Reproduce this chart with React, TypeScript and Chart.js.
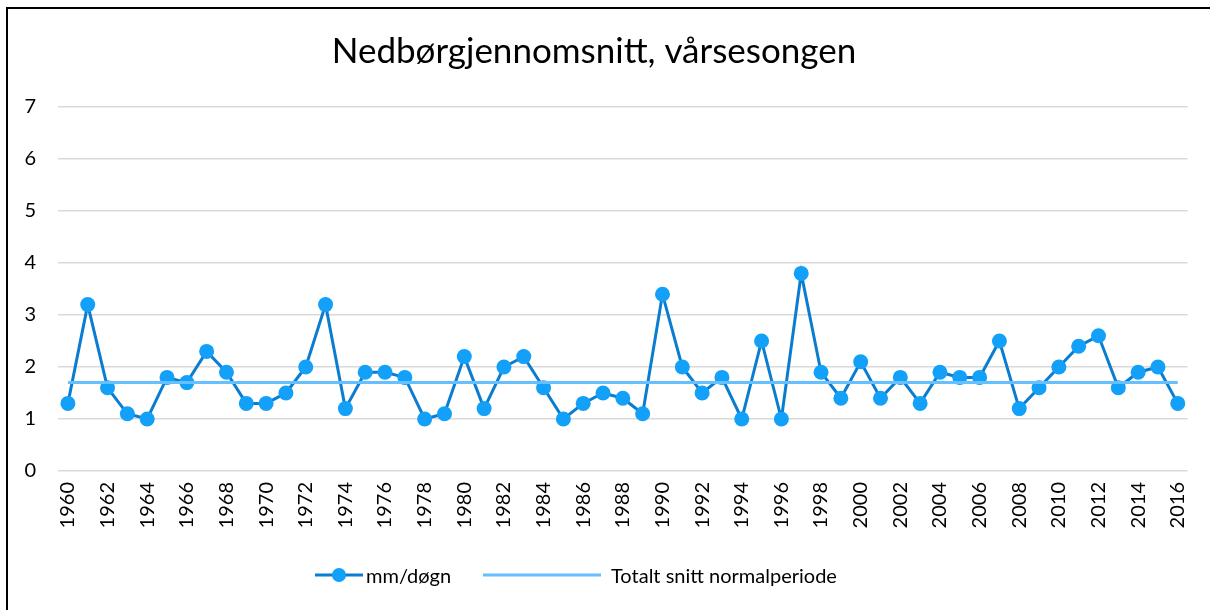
import React, { useEffect, useRef } from "react";
import { Chart, registerables } from "chart.js";

Chart.register(...registerables);

const years: string[] = [
  "1960","1961","1962","1963","1964","1965","1966","1967","1968","1969",
  "1970","1971","1972","1973","1974","1975","1976","1977","1978","1979",
  "1980","1981","1982","1983","1984","1985","1986","1987","1988","1989",
  "1990","1991","1992","1993","1994","1995","1996","1997","1998","1999",
  "2000","2001","2002","2003","2004","2005","2006","2007","2008","2009",
  "2010","2011","2012","2013","2014","2015","2016",
];

const mmPerDay: number[] = [
  1.3, 3.2, 1.6, 1.1, 1.0, 1.8, 1.7, 2.3, 1.9, 1.3,
  1.3, 1.5, 2.0, 3.2, 1.2, 1.9, 1.9, 1.8, 1.0, 1.1,
  2.2, 1.2, 2.0, 2.2, 1.6, 1.0, 1.3, 1.5, 1.4, 1.1,
  3.4, 2.0, 1.5, 1.8, 1.0, 2.5, 1.0, 3.8, 1.9, 1.4,
  2.1, 1.4, 1.8, 1.3, 1.9, 1.8, 1.8, 2.5, 1.2, 1.6,
  2.0, 2.4, 2.6, 1.6, 1.9, 2.0, 1.3,
];

const normalAverage = 1.7;
const normalLine: number[] = years.map(() => normalAverage);

const titleText = "Nedbørgjennomsnitt, vårsesongen";
const seriesLabels = ["mm/døgn", "Totalt snitt normalperiode"];

const FONT = "Lato, 'Open Sans', sans-serif";

export default function App() {
  const canvasRef = useRef<HTMLCanvasElement | null>(null);

  useEffect(() => {
    if (!canvasRef.current) return;
    const chart = new Chart(canvasRef.current, {
      type: "line",
      data: {
        labels: years,
        datasets: [
          {
            label: seriesLabels[0],
            data: mmPerDay,
            borderColor: "#0A7DD0",
            backgroundColor: "#12A0F8",
            borderWidth: 3,
            pointRadius: 7.5,
            pointHoverRadius: 7.5,
            pointBackgroundColor: "#12A0F8",
            pointBorderColor: "#12A0F8",
            pointBorderWidth: 0,
            tension: 0,
            order: 2,
          },
          {
            label: seriesLabels[1],
            data: normalLine,
            borderColor: "#66BFFF",
            backgroundColor: "#66BFFF",
            borderWidth: 3,
            pointRadius: 0,
            tension: 0,
            order: 1,
          },
        ],
      },
      options: {
        animation: false,
        responsive: false,
        maintainAspectRatio: false,
        layout: { padding: { left: 0, right: 25, top: 0, bottom: 0 } },
        plugins: {
          legend: { display: false },
          tooltip: { enabled: false },
          title: {
            display: true,
            text: titleText,
            color: "#000",
            font: { family: FONT, size: 35, weight: "normal" },
            padding: { top: 31, bottom: 34 },
          },
        },
        scales: {
          x: {
            type: "category",
            offset: true,
            grid: { display: false, drawTicks: false },
            border: { display: false },
            ticks: {
              autoSkip: false,
              maxRotation: 90,
              minRotation: 90,
              padding: 11,
              color: "#000",
              font: { family: FONT, size: 20 },
              callback: (_v: any, i: number) => (i % 2 === 0 ? years[i] : ""),
            },
            afterFit: (s: any) => {
              s.height = 139;
            },
          },
          y: {
            min: 0,
            max: 7,
            grid: { color: "#D9D9D9", lineWidth: 1.5, drawTicks: false },
            border: { display: false },
            ticks: {
              stepSize: 1,
              padding: 22,
              color: "#000",
              font: { family: FONT, size: 20 },
            },
            afterFit: (s: any) => {
              s.width = 58;
            },
          },
        },
      },
    });
    return () => chart.destroy();
  }, []);

  return (
    <div style={{ position: "fixed", left: 0, top: 0, width: 1213, height: 610, background: "#fff", overflow: "hidden" }}>
      <canvas ref={canvasRef} width={1213} height={610} style={{ position: "absolute", left: 0, top: 0 }} />
      <div
        style={{
          position: "absolute",
          left: 6,
          top: 7,
          width: 1204,
          height: 700,
          borderLeft: "2px solid #000",
          borderTop: "2px solid #000",
          boxSizing: "border-box",
          pointerEvents: "none",
        }}
      />
      <div
        style={{
          position: "absolute",
          top: 563,
          left: 0,
          width: 1213,
          height: 24,
          fontFamily: FONT,
          fontSize: 20,
          color: "#000",
        }}
      >
        <svg style={{ position: "absolute", left: 315, top: 4 }} width={48} height={16}>
          <line x1={0} y1={8} x2={48} y2={8} stroke="#0A7DD0" strokeWidth={3} />
          <circle cx={24} cy={8} r={7} fill="#12A0F8" />
        </svg>
        <span style={{ position: "absolute", left: 366, top: 0, lineHeight: "24px" }}>{seriesLabels[0]}</span>
        <svg style={{ position: "absolute", left: 483, top: 4 }} width={118} height={16}>
          <line x1={0} y1={8} x2={118} y2={8} stroke="#66BFFF" strokeWidth={3} />
        </svg>
        <span style={{ position: "absolute", left: 611, top: 0, lineHeight: "24px" }}>{seriesLabels[1]}</span>
      </div>
    </div>
  );
}
